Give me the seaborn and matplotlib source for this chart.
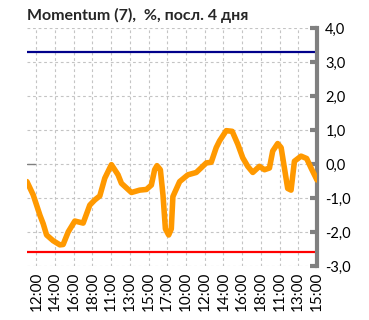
import matplotlib
matplotlib.use("Agg")
import matplotlib.pyplot as plt
import seaborn as sns
import pandas as pd

# Session time (hours counted across the last 4 trading days) and momentum values, %
hours = [0, 0.67, 1.39, 1.74, 2.10, 2.81, 3.52, 3.87, 4.41, 5.12, 6.01, 6.72, 7.25,
         7.79, 8.32, 9.03, 9.74, 10.1, 11.17, 12.05, 12.77, 13.3, 13.65, 13.9, 14.26,
         14.54, 14.8, 15.15, 15.43, 15.6, 16.32, 17.2, 18.1, 19.17, 19.7, 20.23, 20.59,
         21.3, 21.94, 22.54, 23.07, 23.6, 24.14, 24.85, 25.39, 25.92, 26.27, 26.8,
         27.17, 27.52, 27.87, 28.23, 28.59, 29.3, 29.9, 30.37, 31]
momentum = [-0.52, -0.91, -1.51, -1.76, -2.09, -2.26, -2.38, -2.37, -2.0, -1.68, -1.74,
            -1.21, -1.06, -0.94, -0.42, -0.02, -0.32, -0.57, -0.84, -0.77, -0.75, -0.62,
            -0.17, -0.05, -0.17, -0.91, -1.91, -2.09, -1.91, -0.96, -0.52, -0.32, -0.25,
            0.03, 0.05, 0.48, 0.68, 0.98, 0.96, 0.58, 0.18, -0.07, -0.25, -0.07, -0.17,
            -0.12, 0.38, 0.6, 0.48, -0.12, -0.72, -0.77, 0.08, 0.23, 0.16, -0.12, -0.47]

upper_level = 3.3
lower_level = -2.6

tick_hours = [1, 3, 5, 7, 9, 11, 13, 15, 17, 19, 21, 23, 25, 27, 29, 31]
tick_labels = ["12:00", "14:00", "16:00", "18:00", "11:00", "13:00", "15:00", "17:00",
               "10:00", "12:00", "14:00", "16:00", "18:00", "11:00", "13:00", "15:00"]

sns.set_theme(style="white")
plt.rcParams["font.family"] = ["Lato", "DejaVu Sans"]

df = pd.DataFrame({"hour": hours, "momentum": momentum})

fig = plt.figure(figsize=(3.69, 3.2), dpi=100)
ax = fig.add_axes([0.073, 0.169, 0.786, 0.7435])

ax.set_xlim(0, 31)
ax.set_ylim(-3, 4)

# dashed grid
grid_kw = dict(color="#c4c4c4", lw=0.8, ls=(0, (2.5, 2.5)), zorder=0)
for y in range(-3, 5):
    ax.axhline(y, **grid_kw)
for x in tick_hours:
    ax.axvline(x, **grid_kw)
ax.plot([0, 0.9], [0, 0], color="#808080", lw=1.0, zorder=1)

ax.axhline(upper_level, color="#00008b", lw=1.6, zorder=2)
ax.axhline(lower_level, color="#ff0000", lw=1.6, zorder=2)

sns.lineplot(data=df, x="hour", y="momentum", ax=ax, color="#ff9900", lw=4.0,
             zorder=3, solid_capstyle="round", solid_joinstyle="round")

ax.set_xlabel("")
ax.set_ylabel("")

for side in ["left", "top", "bottom"]:
    ax.spines[side].set_visible(False)
ax.spines["right"].set_visible(True)
ax.spines["right"].set_color("#808080")
ax.spines["right"].set_linewidth(3)

ax.yaxis.tick_right()
ax.set_yticks(range(-3, 5))
ax.set_yticklabels([f"{v:.1f}".replace(".", ",") for v in range(-3, 5)], fontsize=10.5)
ax.tick_params(axis="y", direction="in", length=5, width=3, color="#808080",
               pad=6, labelcolor="#000000")

ax.set_xticks(tick_hours)
ax.set_xticklabels(tick_labels, rotation=90, fontsize=11)
ax.tick_params(axis="x", length=0, pad=4, labelcolor="#000000")

fig.text(0.073, 0.953, "Momentum (7),  %, посл. 4 дня", fontsize=11.5,
         fontweight="bold", ha="left", va="center")

fig.savefig("out.png", dpi=100)
